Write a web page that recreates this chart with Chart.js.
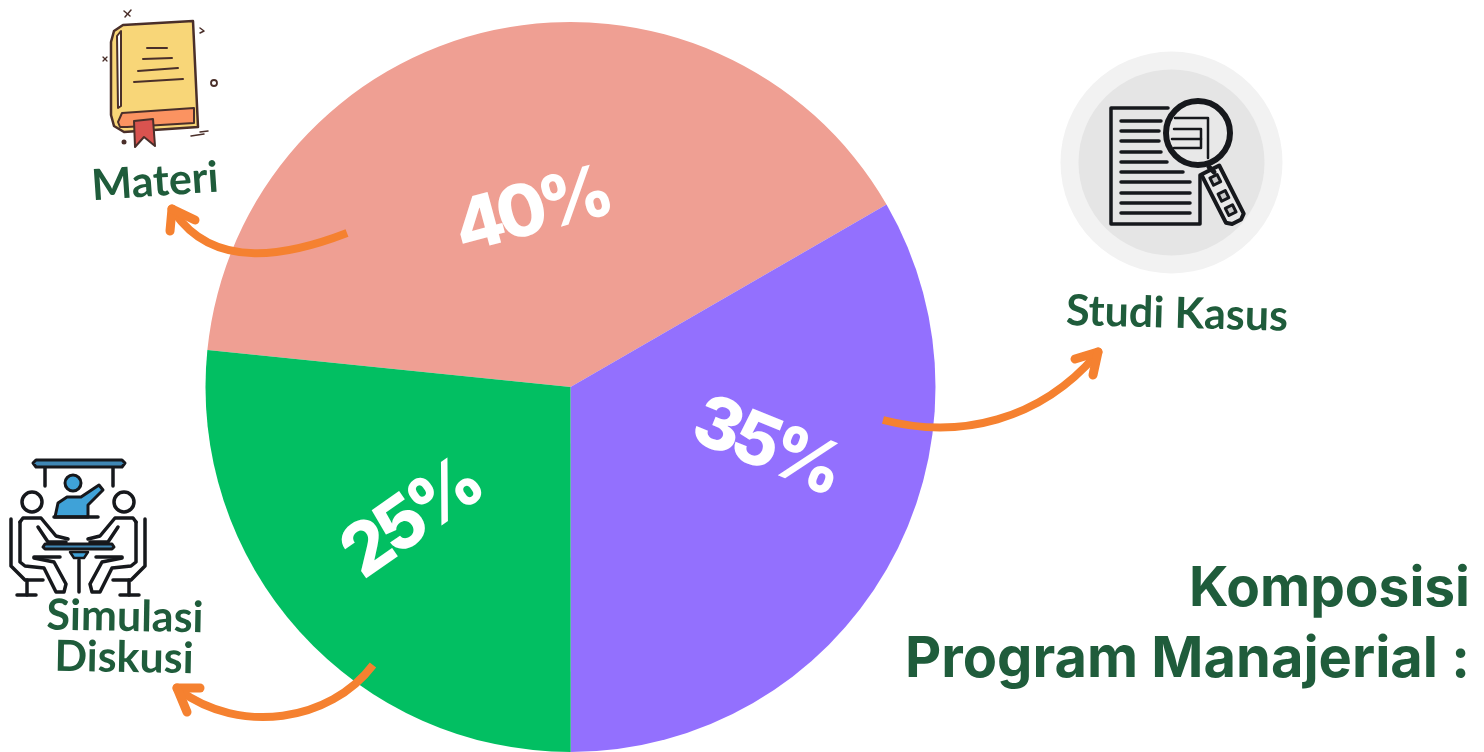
<!DOCTYPE html>
<html lang="id">
<head>
<meta charset="utf-8">
<title>Komposisi Program Manajerial</title>
<script src="https://cdn.jsdelivr.net/npm/chart.js@4"></script>
<style>
    html, body { margin: 0; padding: 0; background: #fff; }
    canvas { display: block; }
</style>
</head>
<body>
<canvas id="compositionChart" width="1484" height="752"></canvas>
<script>
// Slice sizes as drawn; the printed labels round them differently
const categories = ['Materi', 'Studi Kasus', 'Simulasi Diskusi'];
const sliceSizes = [40.05, 33.33, 26.62];
const percentLabels = ['40%', '35%', '25%'];
const sliceColors = ['#ef9f93', '#9370fe', '#02bf62'];
const titleLines = ['Komposisi', 'Program Manajerial :'];

const green = '#1f5c3b';
const orange = '#f58130';
const dark = '#4a2f2a';
const ink = '#16181c';

function line(ctx, pts, width, color, close) {
    ctx.beginPath();
    pts.forEach((p, i) => i ? ctx.lineTo(p[0], p[1]) : ctx.moveTo(p[0], p[1]));
    if (close) ctx.closePath();
    ctx.lineWidth = width;
    ctx.strokeStyle = color;
    ctx.lineCap = 'round';
    ctx.lineJoin = 'round';
    ctx.stroke();
}

function poly(ctx, pts, fill, width, color) {
    ctx.beginPath();
    pts.forEach((p, i) => i ? ctx.lineTo(p[0], p[1]) : ctx.moveTo(p[0], p[1]));
    ctx.closePath();
    ctx.fillStyle = fill;
    ctx.fill();
    if (width) line(ctx, pts, width, color, true);
}

function circle(ctx, x, y, r, fill, width, color) {
    ctx.beginPath();
    ctx.arc(x, y, r, 0, Math.PI * 2);
    if (fill) { ctx.fillStyle = fill; ctx.fill(); }
    if (width) { ctx.lineWidth = width; ctx.strokeStyle = color; ctx.stroke(); }
}

function text(ctx, str, x, y, font, color, angle, align, spacing) {
    ctx.save();
    ctx.translate(x, y);
    ctx.rotate((angle || 0) * Math.PI / 180);
    ctx.font = font;
    ctx.letterSpacing = spacing || '0px';
    ctx.fillStyle = color;
    ctx.textAlign = align || 'center';
    ctx.textBaseline = 'middle';
    ctx.fillText(str, 0, 0);
    ctx.restore();
}

function drawBook(ctx) {
    poly(ctx, [[111, 42], [114, 31], [123, 25], [193, 21], [198, 127], [124, 132], [114, 126], [111, 115]], '#f8d678', 2.5, dark);
    poly(ctx, [[117, 36], [121, 31], [121, 106], [118, 108]], '#ffffff', 2, dark);
    poly(ctx, [[118, 122], [122, 113], [194, 108], [194, 123], [127, 127], [120, 127]], '#fb9361', 2, dark);
    poly(ctx, [[134, 121], [153, 119], [155, 146], [144, 137], [135, 147]], '#d9534f', 2, dark);
    line(ctx, [[147, 48], [167, 48]], 2, dark);
    line(ctx, [[143, 59], [172, 58]], 2, dark);
    line(ctx, [[138, 71], [178, 68]], 2, dark);
    line(ctx, [[134, 82], [183, 79]], 2, dark);
    circle(ctx, 214, 83, 3, null, 1.8, dark);
    circle(ctx, 124, 142, 2.5, dark);
    line(ctx, [[191, 136], [204, 134]], 1.5, dark);
    line(ctx, [[200, 132], [208, 131]], 1.5, dark);
    line(ctx, [[200, 28], [204, 31], [200, 33]], 1.5, dark);
    line(ctx, [[124, 11], [130, 16]], 1.5, dark);
    line(ctx, [[131, 10], [125, 17]], 1.5, dark);
    line(ctx, [[103, 57], [107, 61]], 1.2, dark);
    line(ctx, [[107, 57], [103, 61]], 1.2, dark);
}

function drawPerson(ctx, mx) {
    // mx = -1 mirrors the left seat onto the right
    const m = pts => pts.map(p => [mx < 0 ? 156 - p[0] : p[0], p[1]]);
    circle(ctx, mx < 0 ? 124 : 32, 502, 10, null, 3.5, ink);
    line(ctx, m([[11, 519], [11, 566], [25, 580], [43, 580]]), 3.5, ink);
    line(ctx, m([[27, 580], [27, 595]]), 3.5, ink);
    line(ctx, m([[17, 595], [36, 595]]), 3.5, ink);
    line(ctx, m([[20, 522], [23, 518], [41, 518], [56, 536], [68, 539]]), 3.5, ink);
    line(ctx, m([[20, 522], [20, 562], [25, 566], [44, 568], [56, 592], [64, 592], [66, 584], [54, 562], [34, 558]]), 3.5, ink);
    line(ctx, m([[38, 527], [48, 542], [66, 542]]), 3.5, ink);
    line(ctx, m([[34, 557], [60, 557]]), 3.5, ink);
}

function drawMeeting(ctx) {
    poly(ctx, [[36, 460], [122, 460], [125, 463], [122, 467], [36, 467], [33, 463]], '#3f87b5', 3, ink);
    line(ctx, [[45, 468], [45, 486]], 3.5, ink);
    line(ctx, [[113, 468], [113, 486]], 3.5, ink);
    circle(ctx, 73, 483, 8, '#3fa2d8', 3, ink);
    poly(ctx, [[55, 517], [58, 503], [67, 497], [81, 497], [99, 485], [103, 490], [88, 505], [88, 517]], '#3fa2d8', 3, ink);
    line(ctx, [[54, 517], [98, 517]], 3.5, ink);
    drawPerson(ctx, 1);
    drawPerson(ctx, -1);
    poly(ctx, [[45, 544], [112, 544], [114, 547], [112, 549], [45, 549], [43, 547]], '#3f87b5', 3, ink);
    poly(ctx, [[70, 552], [88, 552], [84, 558], [74, 558]], '#3fa2d8', 2.5, ink);
    line(ctx, [[79, 560], [79, 592]], 3.5, ink);
}

function drawDocument(ctx) {
    circle(ctx, 1171.5, 162.5, 111, '#f2f2f2');
    circle(ctx, 1171.5, 162.5, 93, '#e5e5e5');
    line(ctx, [[1168, 108], [1111, 108], [1111, 224], [1200, 224], [1200, 175]], 3.5, ink);
    const rows = [[121, 1161], [131, 1159], [141, 1159], [152, 1161], [162, 1167], [172, 1183], [182, 1190], [193, 1190], [203, 1190], [213, 1190]];
    rows.forEach(r => line(ctx, [[1121, r[0]], [r[1], r[0]]], 3.5, ink));
    circle(ctx, 1198, 133, 32, '#e8e8e8', 6, ink);
    line(ctx, [[1175, 118], [1208, 118], [1208, 158]], 2.5, ink);
    line(ctx, [[1174, 129], [1201, 129], [1201, 148], [1174, 148]], 2.5, ink);
    line(ctx, [[1172, 139], [1201, 139]], 2.5, ink);

    ctx.save();
    ctx.translate(1223, 195);
    ctx.rotate(-0.47);
    poly(ctx, [[-10, -28], [10, -28], [10, 26], [5, 30], [-5, 30], [-10, 26]], '#e8e8e8', 4, ink);
    [-17, 1, 17].forEach(y => poly(ctx, [[-4, y - 4], [4, y - 4], [4, y + 4], [-4, y + 4]], '#c9c9c9', 3, ink));
    ctx.restore();
    line(ctx, [[1209, 167], [1214, 172]], 5, ink);
}

function drawArrow(ctx, c, head) {
    ctx.beginPath();
    ctx.moveTo(c[0], c[1]);
    ctx.bezierCurveTo(c[2], c[3], c[4], c[5], c[6], c[7]);
    ctx.lineWidth = 8;
    ctx.strokeStyle = orange;
    ctx.lineCap = 'butt';
    ctx.stroke();
    line(ctx, head, 9, orange);
}

// Everything that sits around the pie: icons, captions, arrows, title
const overlay = {
    id: 'overlay',
    afterDraw(chart) {
        const ctx = chart.ctx;
        const arc = chart.getDatasetMeta(0).data[0];
        const cx = arc.x, cy = arc.y;

        const pct = '800 72px Inter';
        text(ctx, percentLabels[0], cx - 39, cy - 175, pct, '#fff', -15, 'center', '-6px');
        text(ctx, percentLabels[1], cx + 195, cy + 60, pct, '#fff', 22, 'center', '-6px');
        text(ctx, percentLabels[2], cx - 159, cy + 133, pct, '#fff', -35, 'center', '-6px');

        drawBook(ctx);
        drawMeeting(ctx);
        drawDocument(ctx);

        const hand = '700 43px Lato';
        text(ctx, categories[0], 155, 182, hand, green, -4);
        text(ctx, categories[1], 1177, 314, hand, green, 1.5);
        const simParts = categories[2].split(' ');
        text(ctx, simParts[0], 125, 617, hand, green, 1);
        text(ctx, simParts[1], 124, 658, hand, green, 1);

        drawArrow(ctx, [347, 233, 290, 255, 215, 272, 174, 212], [[172, 209], [170, 231]]);
        line(ctx, [[172, 209], [195, 220]], 9, orange);
        drawArrow(ctx, [883, 420, 960, 440, 1040, 420, 1096, 355], [[1098, 352], [1075, 359]]);
        line(ctx, [[1098, 352], [1093, 375]], 9, orange);
        drawArrow(ctx, [373, 665, 330, 722, 240, 735, 179, 690], [[177, 688], [200, 688]]);
        line(ctx, [[177, 688], [187, 712]], 9, orange);

        text(ctx, titleLines[0], 1470, 589, '700 55px Inter', green, 0, 'right');
        text(ctx, titleLines[1], 1470, 660, '700 56px Inter', green, 0, 'right');
    }
};

new Chart(document.getElementById('compositionChart').getContext('2d'), {
    type: 'pie',
    data: {
        labels: categories,
        datasets: [{
            data: sliceSizes,
            backgroundColor: sliceColors,
            borderWidth: 0
        }]
    },
    options: {
        responsive: false,
        animation: false,
        rotation: -84.2,
        layout: { padding: { left: 205, right: 548, top: 22, bottom: 0 } },
        plugins: {
            legend: { display: false },
            tooltip: { enabled: false }
        }
    },
    plugins: [overlay]
});
</script>
</body>
</html>
